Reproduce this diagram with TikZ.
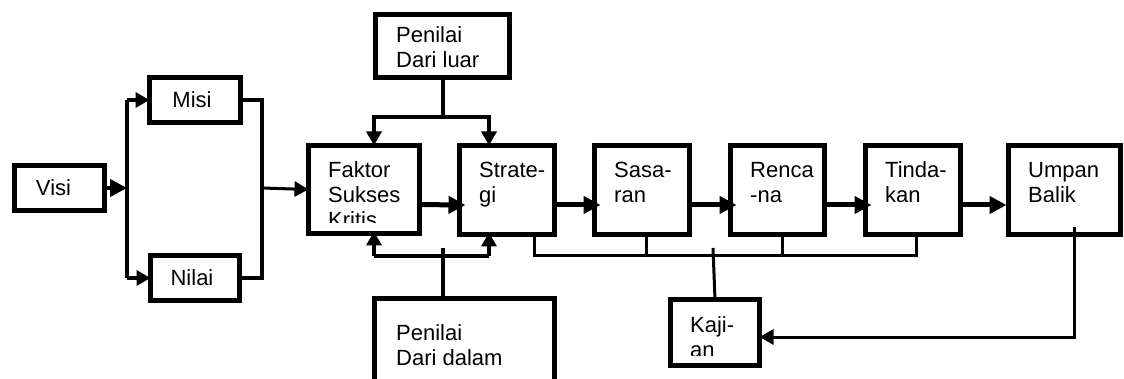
\documentclass[tikz,border=0pt]{standalone}
\usepackage{fontspec}
\setmainfont{Liberation Sans}
\usetikzlibrary{arrows.meta,calc}
\newcommand\tlines[1]{\vtop{\baselineskip=25pt\lineskiplimit=-1000pt\lineskip=0pt #1}}
\begin{document}
\begin{tikzpicture}[x=1pt,y=-1pt,
  box/.style={draw, line width=5pt, inner sep=0pt, outer sep=0pt},
  lbl/.style={anchor=base west, inner sep=0pt, font=\fontsize{22}{25}\selectfont},
  clbl/.style={inner sep=0pt, font=\fontsize{22}{25}\selectfont},
  thin/.style={line width=3pt},
  mid/.style={line width=4pt},
  thick/.style={line width=5pt},
  arr/.style={-{Triangle[length=14pt,width=15pt]}},
  barr/.style={-{Triangle[length=17pt,width=17pt]}}]
\useasboundingbox (0,0) rectangle (1124,379);
\clip (0,0) rectangle (1124,379);
% boxes
\node[box, minimum width=90pt, minimum height=45pt] (visi) at (59.5,188) {};
\node[box, minimum width=91pt, minimum height=45pt] (misi) at (195,100) {};
\node[box, minimum width=89pt, minimum height=45pt] (nilai) at (195,278) {};
\node[box, minimum width=111pt, minimum height=88pt] (faktor) at (364,189.5) {};
\node[box, minimum width=95pt, minimum height=89pt] (strategi) at (507,190) {};
\node[box, minimum width=95pt, minimum height=89pt] (sasaran) at (642,190) {};
\node[box, minimum width=94pt, minimum height=89pt] (rencana) at (777.5,190) {};
\node[box, minimum width=95pt, minimum height=89pt] (tindakan) at (913,190) {};
\node[box, minimum width=112pt, minimum height=89pt] (umpan) at (1064.5,190) {};
\node[box, minimum width=134pt, minimum height=63pt] (pluar) at (442.5,46) {};
\node[box, minimum width=180pt, minimum height=99pt] (pdalam) at (464.5,348) {};
\node[box, minimum width=89pt, minimum height=66pt] (kajian) at (715,332.5) {};
% texts
\node[clbl] (tvisi) at ([xshift=-6pt]visi.center) {Visi};
\node[clbl] (tmisi) at ([xshift=-3pt]misi.center) {Misi};
\node[clbl] (tnilai) at ([xshift=-3pt]nilai.center) {Nilai};
\begin{scope}
\clip (310,150) rectangle (418,223);
\node[lbl] (tfaktor) at (328,178) {\tlines{\hbox{Faktor}\hbox{Sukses}\hbox{Kritis}}};
\end{scope}
\node[lbl] (tstrategi) at (479,178) {\tlines{\hbox{Strate-}\hbox{gi}}};
\node[lbl] (tsasaran) at (614,178) {\tlines{\hbox{Sasa-}\hbox{ran}}};
\node[lbl] (trencana) at (750,178) {\tlines{\hbox{Renca}\hbox{-na}}};
\node[lbl] (ttindakan) at (885,178) {\tlines{\hbox{Tinda-}\hbox{kan}}};
\node[lbl] (tumpan) at (1028,178) {\tlines{\hbox{Umpan}\hbox{Balik}}};
\node[lbl] (tpluar) at (396,43) {\tlines{\hbox{Penilai}\hbox{Dari luar}}};
\node[lbl] (tpdalam) at (396,340) {\tlines{\hbox{Penilai}\hbox{Dari dalam}}};
\begin{scope}
\clip (672,300) rectangle (758,355);
\node[lbl] (tkajian) at (690,332) {\tlines{\hbox{Kaji-}\hbox{an}}};
\end{scope}
% left branching
\coordinate (bv) at (127,188);
\coordinate (mv) at (262,188);
\draw[mid, barr] (visi.east) -- (bv);
\draw[mid] (bv |- misi.west) -- (bv |- nilai.west);
\draw[mid, arr] (bv |- misi.west) -- (misi.west);
\draw[mid, arr] (bv |- nilai.west) -- (nilai.west);
\draw[mid] (misi.east) -| (mv) |- (nilai.east);
\draw[thin, arr] (mv) -- (faktor.west);
% Penilai dari luar
\coordinate (tl) at (374,117);
\coordinate (tr) at (489,117);
\draw[mid] (pluar.south) -- (pluar.south |- tl);
\draw[mid, arr, line cap=rect] (tl) -- (tl |- faktor.north);
\draw[mid, arr, line cap=rect] (tr) -- (tr |- strategi.north);
\draw[mid] (tl) -- (tr);
% Penilai dari dalam
\coordinate (bl) at (374,256);
\coordinate (br) at (489,256);
\draw[mid] (bl) -- (br);
\draw[mid, arr, shorten >=-2pt] (bl) -- (bl |- faktor.south);
\draw[mid, arr, shorten >=-2pt] (br) -- (br |- strategi.south);
\draw[mid] (443,248) -- (pdalam.north -| 443,0);
% main flow
\draw[thick, barr, shorten >=-6pt] ($(faktor.east)+(0,15)$) -- ($(strategi.west)+(0,15)$);
\draw[thick, barr, shorten >=-6pt] ($(strategi.east)+(0,15)$) -- ($(sasaran.west)+(0,15)$);
\draw[thick, barr, shorten >=-6pt] ($(sasaran.east)+(0,15)$) -- ($(rencana.west)+(0,15)$);
\draw[thick, barr, shorten >=-6pt] ($(rencana.east)+(0,15)$) -- ($(tindakan.west)+(0,15)$);
\draw[thick, barr, shorten >=2pt] ($(tindakan.east)+(0,15)$) -- ($(umpan.west)+(0,15)$);
% review bar
\coordinate (rb1) at (534,256);
\coordinate (rb2) at (916,256);
\draw[thin] (rb1 |- strategi.south) -- (rb1) -- (rb2) -- (rb2 |- tindakan.south);
\draw[thin] (sasaran.south -| 646,0) -- (646,256);
\draw[thin] (rencana.south -| 782,0) -- (782,256);
\draw[thin] (713,248) -- (kajian.north);
% feedback
\coordinate (fb) at (1074,337);
\draw[thin, arr] (1074,227) -- (fb) -- (kajian.east |- fb);
\end{tikzpicture}
\end{document}
